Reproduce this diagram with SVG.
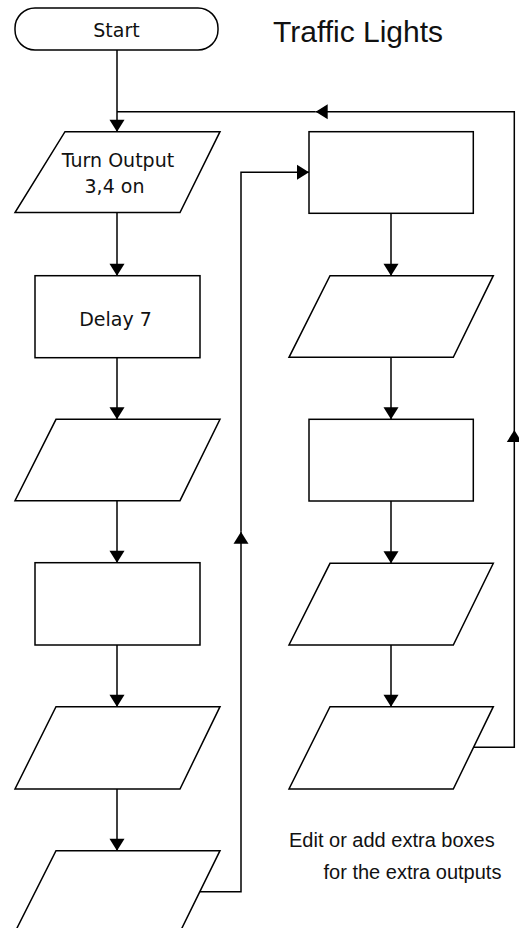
<svg xmlns="http://www.w3.org/2000/svg" xmlns:xlink="http://www.w3.org/1999/xlink" width="519" height="928" viewBox="0 0 519 928">
  <style>
    .shape { fill: #fff; stroke: #000; stroke-width: 1.5; }
    .link { fill: none; stroke: #000; stroke-width: 1.5; }
    .arrow { marker-end: url(#head); }
    .label { font-family: "DejaVu Sans", Verdana, sans-serif; font-size: 19px; fill: #111; text-anchor: middle; }
    .title { font-family: "Liberation Sans", Arial, sans-serif; font-size: 30px; fill: #111; }
    .note { font-family: "Liberation Sans", Arial, sans-serif; font-size: 20px; fill: #111; }
  </style>
  <defs>
    <marker id="head" markerUnits="userSpaceOnUse" markerWidth="12" markerHeight="15" refX="12" refY="7.5" orient="auto" overflow="visible">
      <path d="M0,0 L12,7.5 L0,15 Z" fill="#000"/>
    </marker>
  </defs>

  <rect width="519" height="928" fill="#fff"/>

  <!-- connectors -->
  <g id="connectors">
    <!-- left column -->
    <path class="link arrow" d="M117,50 V131.7"/>
    <path class="link arrow" d="M117,212.5 V275.7"/>
    <path class="link arrow" d="M117,357.7 V419.3"/>
    <path class="link arrow" d="M117,500.7 V562.7"/>
    <path class="link arrow" d="M117,645 V706.7"/>
    <path class="link arrow" d="M117,789 V850.7"/>
    <!-- jump from the left column to the right column -->
    <path class="link arrow" d="M199.8,891.7 H241 V531.7"/>
    <path class="link arrow" d="M241,531.7 V172.3 H309"/>
    <!-- right column -->
    <path class="link arrow" d="M391,213.3 V275.7"/>
    <path class="link arrow" d="M391,357.3 V419.3"/>
    <path class="link arrow" d="M391,501 V563.3"/>
    <path class="link arrow" d="M391,645 V706.7"/>
    <!-- loop back to the top -->
    <path class="link arrow" d="M473.6,747.3 H514.3 V430"/>
    <path class="link arrow" d="M514.3,430 V111.7 H315.7"/>
    <path class="link" d="M315.7,111.7 H117"/>
  </g>

  <!-- left column -->
  <g id="start">
    <rect class="shape" x="15" y="8" width="203" height="42" rx="20" ry="20"/>
    <text class="label" x="116.5" y="37">Start</text>
  </g>
  <g id="output-3-4">
    <polygon class="shape" points="65,131.7 220,131.7 180,212.5 15,212.5"/>
    <text class="label" x="118" y="167.3">Turn Output</text>
    <text class="label" x="114.5" y="193.3">3,4 on</text>
  </g>
  <g id="delay-7">
    <rect class="shape" x="35" y="275.7" width="165" height="82"/>
    <text class="label" x="115.5" y="325.7">Delay 7</text>
  </g>
  <g id="output-2">
    <polygon class="shape" points="56,419.3 220,419.3 180,500.7 15,500.7"/>
  </g>
  <g id="delay-2">
    <rect class="shape" x="35" y="562.7" width="165" height="82.3"/>
  </g>
  <g id="output-3">
    <polygon class="shape" points="56,706.7 220,706.7 180,789 15,789"/>
  </g>
  <g id="output-4">
    <polygon class="shape" points="56,850.7 220,850.7 180,932 15,932"/>
  </g>

  <!-- right column -->
  <g id="delay-3">
    <rect class="shape" x="309" y="131.7" width="164.3" height="81.6"/>
  </g>
  <g id="output-5">
    <polygon class="shape" points="330,275.7 493.3,275.7 453.3,357.3 289,357.3"/>
  </g>
  <g id="delay-4">
    <rect class="shape" x="309" y="419.3" width="164.3" height="81.7"/>
  </g>
  <g id="output-6">
    <polygon class="shape" points="330,563.3 493.3,563.3 453.3,645 289,645"/>
  </g>
  <g id="output-7">
    <polygon class="shape" points="330,706.7 493.3,706.7 453.3,789 289,789"/>
  </g>

  <!-- captions -->
  <g id="title">
    <text class="title" x="273" y="41.7">Traffic Lights</text>
  </g>
  <g id="hint">
    <text class="note" x="289" y="847">Edit or add extra boxes</text>
    <text class="note" x="323.5" y="878.5">for the extra outputs</text>
  </g>
</svg>
